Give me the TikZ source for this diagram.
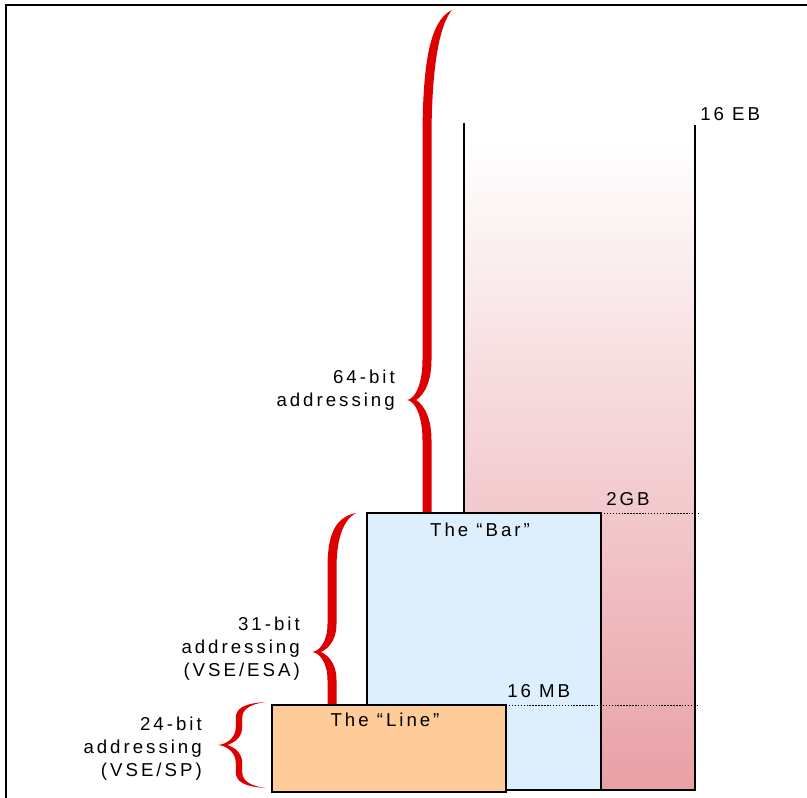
\documentclass[tikz,border=0pt]{standalone}
\usepackage{fontspec}
\usepackage{xcolor}
\usepackage{tikz}
\usetikzlibrary{calc,positioning}
\newfontfamily\labfont[LetterSpace=16]{Liberation Sans}
\definecolor{ink}{HTML}{000000}
\definecolor{bracered}{HTML}{DD0000}
\definecolor{barblue}{HTML}{DDEEFD}
\definecolor{lineorange}{HTML}{FFCC99}
\definecolor{pinkmid}{HTML}{EEBBC0}
\definecolor{pinkbot}{HTML}{E8A0A6}
\tikzset{
  frameline/.style={draw=ink, line width=1.1pt},
  wall/.style={draw=ink, line width=2.2pt},
  barbox/.style={draw=ink, line width=2.2pt, fill=barblue, rectangle, inner sep=0pt, outer sep=0pt,
    minimum width=175.5pt, minimum height=207.75pt, anchor=north west},
  linebox/.style={draw=ink, line width=2.2pt, fill=lineorange, rectangle, inner sep=0pt, outer sep=0pt,
    minimum width=175.5pt, minimum height=65.25pt, anchor=north west},
  dotline/.style={draw=ink, line width=0.7pt, dash pattern=on 1.1pt off 1.1pt},
  lab/.style={text=ink, inner sep=0pt, font=\labfont\fontsize{14}{17}\selectfont},
  side/.style={lab, align=right, anchor=north east},
}
% #1 xtop #2 ytop #3 xarm #4 curl #5 ytip #6 xtip #7 neck #8 ybot #9 xbot
\def\bw{4.5}
\newcommand\redbrace[9]{%
  \fill[bracered] (#1,#2)
    .. controls ({#3-\bw+0.3*(#1-#3)},{#2+0.08*#4}) and ({#3-\bw},{#2+0.4*#4}) .. ({#3-\bw},{#2+#4})
    -- ({#3-\bw},{#5-#7})
    .. controls ({#3-\bw},{#5-0.35*#7}) and ({#6+0.35*(#3-#6)},{#5-0.5}) .. (#6,#5)
    .. controls ({#6+0.35*(#3-#6)},{#5+0.5}) and ({#3-\bw},{#5+0.35*#7}) .. ({#3-\bw},{#5+#7})
    -- ({#3-\bw},{#8-#4})
    .. controls ({#3-\bw},{#8-0.4*#4}) and ({#3-\bw+0.3*(#9-#3)},{#8-0.08*#4}) .. (#9,#8)
    .. controls ({#3+\bw+0.3*(#9-#3)},{#8-0.12*#4}) and ({#3+\bw},{#8-0.45*#4}) .. ({#3+\bw},{#8-#4})
    -- ({#3+\bw},{#5+#7})
    .. controls ({#3+\bw},{#5+0.25*#7}) and ({#6+0.55*(#3-#6)},{#5+1}) .. ({#6+0.45*(#3-#6)},#5)
    .. controls ({#6+0.55*(#3-#6)},{#5-1}) and ({#3+\bw},{#5-0.25*#7}) .. ({#3+\bw},{#5-#7})
    -- ({#3+\bw},{#2+#4})
    .. controls ({#3+\bw},{#2+0.45*#4}) and ({#3+\bw+0.3*(#1-#3)},{#2+0.12*#4}) .. (#1,#2) -- cycle;}

\begin{document}
\begin{tikzpicture}[x=0.75pt, y=-0.75pt]
  \useasboundingbox (0,0) rectangle (807,798);
  \draw[frameline] (6,798) -- (6,5) -- (807,5);

  % the tower up to 16 EB
  \coordinate (tl) at (464,123);
  \coordinate (tr) at (695,125);
  \coordinate (br) at (695,790);
  \shade[top color=white, middle color=pinkmid, bottom color=pinkbot] (464,140) rectangle (br);

  % braces
  \redbrace{452}{10}{427}{130}{400}{407}{40}{643}{427}
  \redbrace{356}{513}{332}{55}{652}{312}{28}{760}{332}
  \def\bw{3.2}
  \redbrace{266}{702}{239}{16}{745}{218}{18}{788}{266}

  \node[barbox] (bar) at (367,513) {};
  \node[linebox] (line) at (272,705) {};
  \draw[wall] (tl) -- (bar.north -| tl);
  \draw[wall] (tr) -- (br) -- (bar.south east);

  \coordinate (gb) at (bar.north -| tr);
  \coordinate (mb) at (line.north -| tr);
  \draw[dotline] (bar.north east) -- ($(gb)+(3,0)$);
  \draw[dotline] (line.north east) -- ($(mb)+(3,0)$);

  \node[lab, anchor=base] (bart) at ($(bar.north)+(-4,23)$) {The “Bar”};
  \node[lab, anchor=base] (linet) at ($(line.north)+(-4,21)$) {The “Line”};
  \node[lab, anchor=base west] (gbt) at (606,505) {2GB};
  \node[lab, anchor=base west] (mbt) at (507,697) {16 MB};
  \node[lab, anchor=base west] (ebt) at (700,121) {16 EB};

  \node[side] (b64) at (395,370) {64-bit\\addressing};
  \node[side] (b31) at (300,617) {31-bit\\addressing\\(VSE/ESA)};
  \node[side] (b24) at (202,717) {24-bit\\addressing\\(VSE/SP)};
\end{tikzpicture}
\end{document}
